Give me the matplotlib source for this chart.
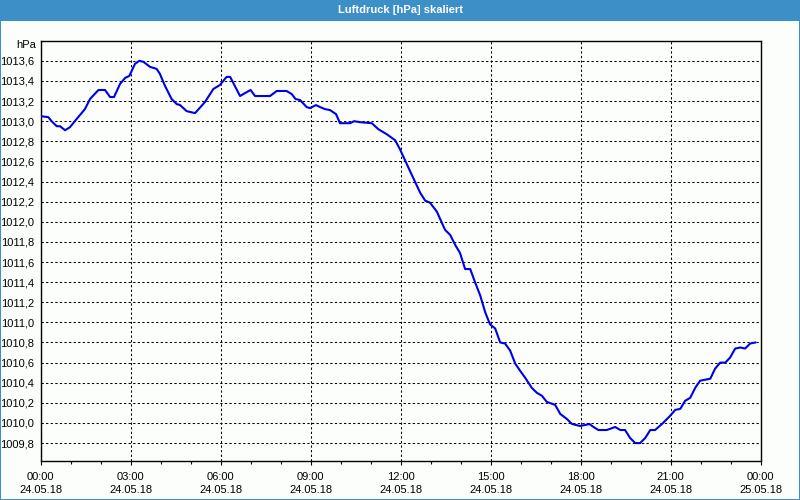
import matplotlib
matplotlib.use("Agg")
import matplotlib.pyplot as plt
import numpy as np
from matplotlib.patches import Rectangle
from matplotlib.ticker import FuncFormatter, MultipleLocator

# ---------------------------------------------------------------------------
# Data
# ---------------------------------------------------------------------------
TITLE = "Luftdruck [hPa] skaliert"

hours = [
    0.0, 0.26, 0.37, 0.54, 0.65, 0.82, 0.98, 1.2, 1.48, 1.65, 1.93, 2.15,
    2.32, 2.45, 2.65, 2.82, 2.96, 3.15, 3.29, 3.43, 3.65, 3.87, 3.98, 4.15,
    4.37, 4.54, 4.65, 4.87, 5.15, 5.48, 5.76, 5.98, 6.2, 6.32, 6.65, 6.82,
    7.0, 7.15, 7.65, 7.87, 8.2, 8.37, 8.5, 8.65, 8.87, 8.98, 9.18, 9.32,
    9.48, 9.65, 9.85, 9.98, 10.32, 10.45, 10.65, 11.04, 11.26, 11.54, 11.82,
    11.98, 12.32, 12.65, 12.82, 12.98, 13.21, 13.48, 13.65, 13.82, 13.98,
    14.15, 14.32, 14.48, 14.65, 14.82, 14.98, 15.15, 15.32, 15.48, 15.65,
    15.82, 15.98, 16.15, 16.37, 16.54, 16.71, 16.87, 17.15, 17.32, 17.54,
    17.71, 17.98, 18.15, 18.29, 18.43, 18.59, 18.87, 19.15, 19.32, 19.48,
    19.65, 19.82, 19.98, 20.15, 20.32, 20.48, 20.71, 20.98, 21.15, 21.32,
    21.48, 21.65, 21.82, 21.98, 22.15, 22.32, 22.48, 22.65, 22.82, 22.98,
    23.15, 23.32, 23.48, 23.65, 23.82,
]

hpa = [
    1013.05, 1013.04, 1013.00, 1012.95, 1012.95, 1012.91, 1012.94, 1013.02,
    1013.12, 1013.22, 1013.31, 1013.31, 1013.24, 1013.24, 1013.37, 1013.43,
    1013.45, 1013.57, 1013.60, 1013.59, 1013.54, 1013.52, 1013.47, 1013.35,
    1013.22, 1013.17, 1013.16, 1013.10, 1013.08, 1013.19, 1013.32, 1013.36,
    1013.44, 1013.44, 1013.25, 1013.28, 1013.31, 1013.25, 1013.25, 1013.30,
    1013.30, 1013.27, 1013.22, 1013.21, 1013.14, 1013.13, 1013.16, 1013.14,
    1013.12, 1013.11, 1013.07, 1012.98, 1012.98, 1013.00, 1012.99, 1012.98,
    1012.92, 1012.87, 1012.81, 1012.72, 1012.50, 1012.29, 1012.21, 1012.19,
    1012.10, 1011.92, 1011.87, 1011.77, 1011.69, 1011.53, 1011.53, 1011.40,
    1011.27, 1011.10, 1010.98, 1010.94, 1010.80, 1010.79, 1010.72, 1010.59,
    1010.52, 1010.45, 1010.35, 1010.30, 1010.27, 1010.21, 1010.18, 1010.09,
    1010.04, 1009.99, 1009.97, 1009.98, 1009.99, 1009.96, 1009.93, 1009.93,
    1009.96, 1009.93, 1009.93, 1009.85, 1009.80, 1009.80, 1009.85, 1009.93,
    1009.93, 1009.99, 1010.07, 1010.13, 1010.14, 1010.22, 1010.25, 1010.35,
    1010.42, 1010.43, 1010.44, 1010.54, 1010.60, 1010.60, 1010.65, 1010.74,
    1010.75, 1010.74, 1010.79, 1010.80,
]

y_ticks = [1009.8, 1010.0, 1010.2, 1010.4, 1010.6, 1010.8, 1011.0, 1011.2,
           1011.4, 1011.6, 1011.8, 1012.0, 1012.2, 1012.4, 1012.6, 1012.8,
           1013.0, 1013.2, 1013.4, 1013.6]

x_ticks = [0, 3, 6, 9, 12, 15, 18, 21, 24]
x_ticklabels = [
    "00:00\n24.05.18", "03:00\n24.05.18", "06:00\n24.05.18",
    "09:00\n24.05.18", "12:00\n24.05.18", "15:00\n24.05.18",
    "18:00\n24.05.18", "21:00\n24.05.18", "00:00\n25.05.18",
]

# ---------------------------------------------------------------------------
# Styling
# ---------------------------------------------------------------------------
BG = "#fcfefc"
BAR_BLUE = "#3d8fc7"
LINE_BLUE = "#0000e6"
W, H = 800, 500

plt.rcParams["font.family"] = ["Liberation Sans", "DejaVu Sans"]
plt.rcParams["font.size"] = 8

assert len(hours) == len(hpa)

fig = plt.figure(figsize=(W / 100, H / 100), dpi=100, facecolor=BG)

# window frame: title bar + thin blue border
fig.patches.append(Rectangle((0, 1 - 20.5 / H), 1, 20.5 / H, transform=fig.transFigure,
                             facecolor=BAR_BLUE, edgecolor="none", zorder=0))
for x0, y0, w, h in [(0, 0, 1.2 / W, 1), (1 - 1.2 / W, 0, 1.2 / W, 1), (0, 0, 1, 1.2 / H)]:
    fig.patches.append(Rectangle((x0, y0), w, h, transform=fig.transFigure,
                                 facecolor=BAR_BLUE, edgecolor="none", zorder=0))
fig.text(0.5, 1 - 10 / H, TITLE, color="white", fontweight="bold", fontsize=8,
         ha="center", va="center")

left, right, top, bottom = 40.5, 760.7, 40.7, 460.7
ax = fig.add_axes([left / W, 1 - bottom / H, (right - left) / W, (bottom - top) / H])
ax.set_facecolor(BG)

ax.plot(hours, hpa, color=LINE_BLUE, linewidth=1.5, solid_joinstyle="round", zorder=3)

ax.set_xlim(0, 24)
ax.set_ylim(1009.625, 1013.8)

ax.set_xticks(x_ticks)
ax.set_xticklabels(x_ticklabels, linespacing=1.35)
ax.xaxis.set_minor_locator(MultipleLocator(1))
ax.set_yticks(y_ticks)
ax.yaxis.set_major_formatter(FuncFormatter(lambda v, _: f"{v:.1f}".replace(".", ",")))

ax.tick_params(axis="x", which="major", length=3, width=0.8, pad=5, colors="black",
               labelsize=8)
ax.tick_params(axis="x", which="minor", length=2, width=0.8)
ax.tick_params(axis="y", length=0, pad=4.5, labelsize=8)

ax.grid(True, which="major", color="black", linestyle=(0, (2.2, 2.2)), linewidth=0.75)
ax.set_axisbelow(True)
for sp in ax.spines.values():
    sp.set_color("black")
    sp.set_linewidth(1.0)

fig.text((left - 4.5) / W, 1 - 45.5 / H, "hPa", ha="right", va="center", fontsize=8)

fig.savefig("out.png", dpi=100, facecolor=BG)
